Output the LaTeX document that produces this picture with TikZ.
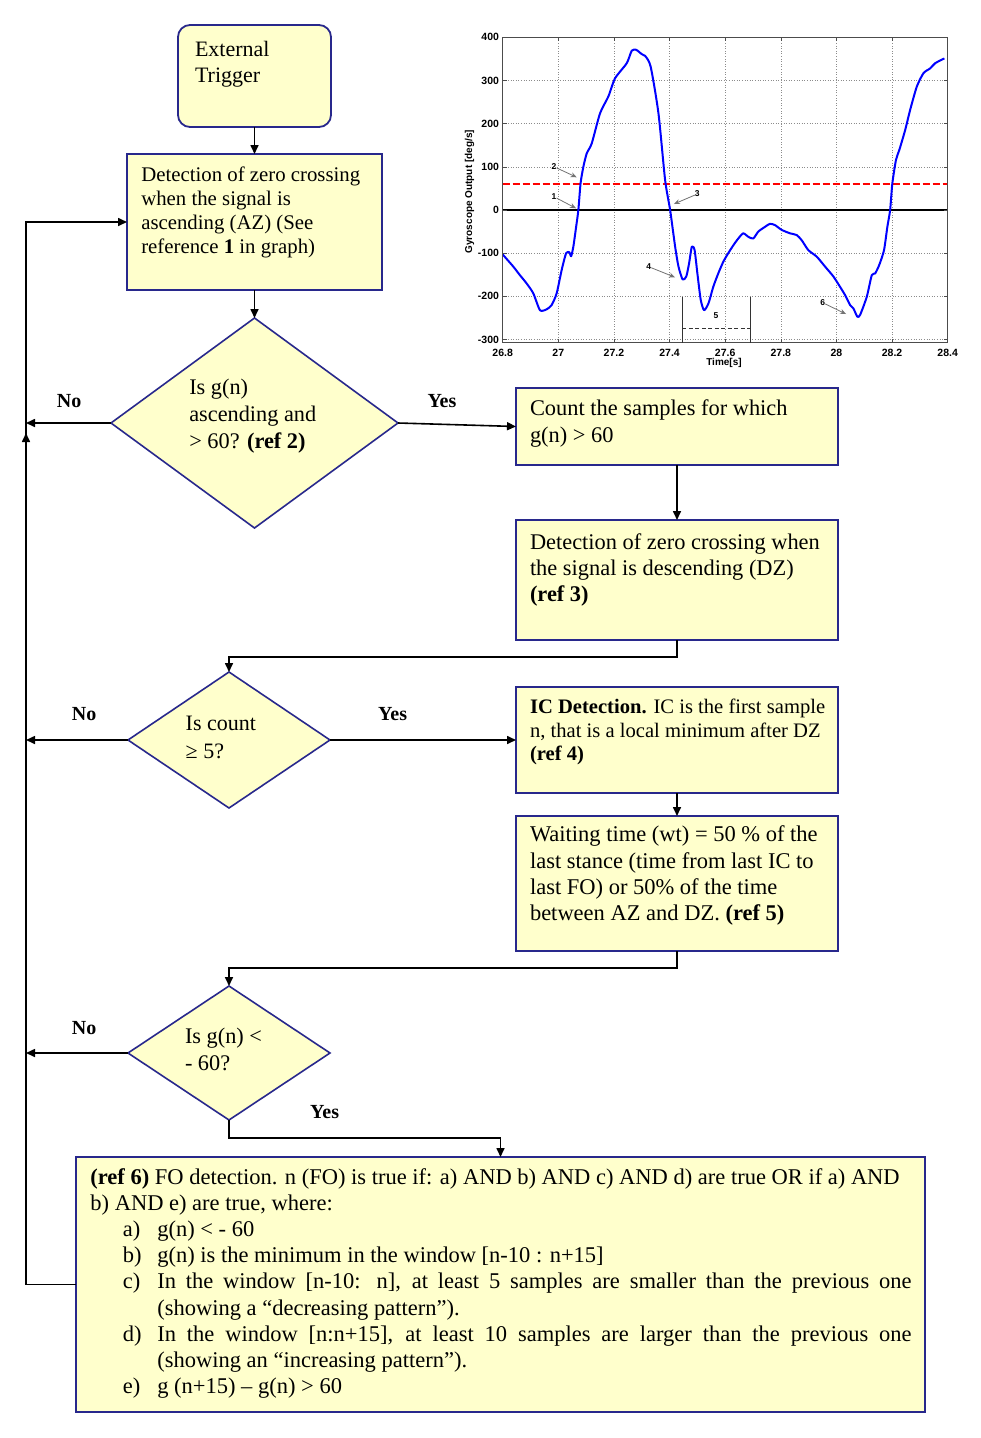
\documentclass[tikz,border=0pt]{standalone}
\usepackage{fontspec}
\setmainfont{Liberation Serif}
\newfontfamily\plotfont{Liberation Sans}
\usetikzlibrary{arrows.meta,shapes.geometric,decorations.markings}
\definecolor{boxfill}{HTML}{FFFFCC}
\definecolor{boxline}{HTML}{28288C}
\newcommand\bigitem[2]{\par\noindent\hangindent=66.9pt\hangafter=1\hspace*{32.5pt}\makebox[34.4pt][l]{#1}#2}
\begin{document}
\begin{tikzpicture}[x=1pt,y=-1pt,
  flowbox/.style={draw=boxline, fill=boxfill, line width=1.8pt, rectangle, inner sep=0pt, outer sep=0pt, anchor=north west},
  flowdiamond/.style={draw=boxline, fill=boxfill, line width=1.6pt, diamond, inner sep=0pt, outer sep=0pt},
  txt/.style={anchor=base west, inner sep=0pt, outer sep=0pt},
  lbl/.style={anchor=base west, inner sep=0pt, font=\fontsize{20}{24}\selectfont\bfseries},
  conn/.style={line width=1.6pt, black},
  arr/.style={conn, -{Triangle[length=9pt,width=8pt]}},
  tick/.style={font=\plotfont\bfseries\fontsize{10.5}{12}\selectfont, inner sep=0pt},
  ann/.style={font=\plotfont\bfseries\fontsize{8.5}{9}\selectfont, inner sep=0pt},
  annarrow/.style={draw=black!55, line width=0.8pt, -{Stealth[length=6pt,width=5pt]}}]
\useasboundingbox[fill=white] (0,0) rectangle (981,1438);

% ---------- shapes ----------
\node[flowbox, rounded corners=12pt, minimum width=153pt, minimum height=102pt] (trig) at (178,25) {};
\node[flowbox, minimum width=255pt, minimum height=136pt] (box1) at (127,154) {};
\node[flowdiamond, minimum width=287pt, minimum height=210pt] (d1) at (254.5,423) {};
\node[flowbox, minimum width=322pt, minimum height=77pt] (count) at (516,388) {};
\node[flowbox, minimum width=322pt, minimum height=120pt] (dz) at (516,520) {};
\node[flowdiamond, minimum width=202pt, minimum height=136pt] (d2) at (229,740) {};
\node[flowbox, minimum width=322pt, minimum height=106pt] (ic) at (516,687) {};
\node[flowbox, minimum width=322pt, minimum height=135pt] (wait) at (516,816) {};
\node[flowdiamond, minimum width=202pt, minimum height=134pt] (d3) at (229,1053) {};
\node[flowbox, minimum width=849pt, minimum height=255pt] (big) at (76,1157) {};
\coordinate (fb) at (26,222);

% ---------- texts ----------
\node[txt] (trigT) at (195,56.2) {\parbox[t]{130pt}{\raggedright\fontsize{22}{25.8}\selectfont External\\Trigger}};
\node[txt] (box1T) at (141.3,181.2) {\parbox[t]{240pt}{\raggedright\fontsize{20.8}{24.1}\selectfont Detection of zero crossing\\when the signal is\\ascending (AZ) (See\\reference \textbf{1} in graph)}};
\node[txt] (d1T) at (189.3,394.8) {\parbox[t]{150pt}{\raggedright\fontsize{22.3}{26.7}\selectfont Is g(n)\\ascending and\\> 60? \textbf{(ref 2)}}};
\node[txt] (countT) at (530,415.7) {\parbox[t]{305pt}{\raggedright\fontsize{22.4}{27}\selectfont Count the samples for which\\g(n) > 60}};
\node[txt] (dzT) at (530,549) {\parbox[t]{305pt}{\raggedright\fontsize{22.4}{26}\selectfont Detection of zero crossing when\\the signal is descending (DZ)\\\textbf{(ref 3)}}};
\node[txt] (d2T) at (185.7,730) {\parbox[t]{100pt}{\raggedright\fontsize{22}{28.3}\selectfont Is count\\≥ 5?}};
\node[txt] (icT) at (530,713.3) {\parbox[t]{305pt}{\raggedright\fontsize{20.6}{23.8}\selectfont \textbf{IC Detection.} IC is the first sample\\n, that is a local minimum after DZ\\\textbf{(ref 4)}}};
\node[txt] (waitT) at (530,841.7) {\parbox[t]{305pt}{\raggedright\fontsize{22.5}{26.3}\selectfont Waiting time (wt) = 50 \% of the\\last stance (time from last IC to\\last FO) or 50\% of the time\\between AZ and DZ. \textbf{(ref 5)}}};
\node[txt] (d3T) at (185,1043.3) {\parbox[t]{100pt}{\raggedright\fontsize{22.3}{27.4}\selectfont Is g(n) <\\- 60?}};
\node[txt] (bigT) at (90.4,1184) {\parbox[t]{821.2pt}{\fontsize{22.5}{26.2}\selectfont\hyphenpenalty=10000\parindent=0pt
\textbf{(ref 6)} FO detection. n (FO) is true if: a) AND b) AND c) AND d) are true OR if a) AND\\
b) AND e) are true, where:
\bigitem{a)}{g(n) < - 60}
\bigitem{b)}{g(n) is the minimum in the window [n-10 : n+15]}
\bigitem{c)}{In the window [n-10: n], at least 5 samples are smaller than the previous one\linebreak (showing a “decreasing pattern”).}
\bigitem{d)}{In the window [n:n+15], at least 10 samples are larger than the previous one\linebreak (showing an “increasing pattern”).}
\bigitem{e)}{g (n+15) – g(n) > 60}}};

% ---------- labels ----------
\node[lbl] (no1) at (56.7,407.5) {No};
\node[lbl] (yes1) at (427.3,407.5) {Yes};
\node[lbl] (no2) at (71.7,720) {No};
\node[lbl] (yes2) at (378,720) {Yes};
\node[lbl] (no3) at (71.7,1034.3) {No};
\node[lbl] (yes3) at (310,1118.3) {Yes};

% ---------- connectors ----------
\draw[arr] (trig.south) -- (box1.north);
\draw[arr] (box1.south) -- (d1.north);
\draw[arr] (d1.east) -- (count.west);
\draw[arr] (d1.west) -- (d1.west -| fb);
\draw[arr] (count.south) -- (dz.north);
\draw[arr] (dz.south) -- ++(0,17) -| (d2.north);
\draw[arr] (d2.east) -- (ic.west);
\draw[arr] (d2.west) -- (d2.west -| fb);
\draw[arr] (ic.south) -- (wait.north);
\draw[arr] (wait.south) -- ++(0,17) -| (d3.north);
\draw[arr] (d3.west) -- (d3.west -| fb);
\draw[arr] (d3.south) -- ++(0,18) -| (big.north);
\draw[arr, postaction={decorate, decoration={markings, mark=at position 901.5pt with {\arrow{Triangle[length=9pt,width=8pt]}}}}]
  (big.west) -- (big.west -| fb) -- (fb) -- (box1.west);

% ---------- graph ----------
\begin{scope}[xshift=-6951.05pt, yshift=-210pt, x=278.125pt, y=0.4318pt]
  \foreach \t in {27,27.2,27.4,27.6,27.8,28,28.2}
    \draw[black!45, dotted, line width=0.6pt] (\t,-307) -- (\t,400);
  \foreach \g in {-300,-200,-100,100,200,300}
    \draw[black!45, dotted, line width=0.6pt] (26.8,\g) -- (28.4,\g);
  \draw[red, dashed, dash pattern=on 7pt off 3pt, line width=1.8pt] (26.8,60) -- (28.4,60);
  \draw[black, line width=1.8pt] (26.8,0) -- (28.4,0);
  \draw[blue, line width=2pt, line join=round] plot[smooth, tension=0.4] coordinates {
    (26.8,-103) (26.838,-131) (26.862,-151) (26.886,-170) (26.91,-193) (26.934,-232)
    (26.958,-230) (26.976,-220) (26.994,-193) (27.012,-139) (27.028,-100) (27.04,-98)
    (27.046,-107) (27.054,-85) (27.064,-39) (27.072,0) (27.08,62) (27.09,100)
    (27.102,131) (27.12,154) (27.15,224) (27.18,263) (27.204,305) (27.246,340)
    (27.264,369) (27.28,371) (27.30,361) (27.312,357) (27.332,332) (27.36,224)
    (27.384,69) (27.402,0) (27.42,-85) (27.432,-131) (27.447,-161) (27.46,-154)
    (27.47,-124) (27.48,-85) (27.49,-93) (27.50,-147) (27.512,-208) (27.524,-232)
    (27.54,-216) (27.557,-178) (27.575,-147) (27.593,-120) (27.611,-100) (27.63,-81)
    (27.647,-66) (27.665,-54) (27.683,-62) (27.701,-66) (27.719,-50) (27.743,-39)
    (27.761,-32) (27.779,-35) (27.803,-46) (27.833,-54) (27.857,-58) (27.875,-70)
    (27.899,-93) (27.929,-108) (27.959,-131) (27.989,-154) (28.013,-178) (28.031,-197)
    (28.049,-220) (28.061,-228) (28.075,-247) (28.085,-243) (28.109,-201) (28.127,-151)
    (28.139,-147) (28.154,-127) (28.171,-93) (28.183,-39) (28.193,0) (28.201,62)
    (28.214,116) (28.226,139) (28.247,185) (28.265,232) (28.289,286) (28.313,317)
    (28.337,328) (28.355,340) (28.388,351)};
  \draw[black!70, line width=0.8pt] (26.8,-307) rectangle (28.4,400);
  \foreach \t in {27,27.2,27.4,27.6,27.8,28,28.2} {
    \draw[black!70, line width=0.6pt] (\t,-307) -- ++(0,9);
    \draw[black!70, line width=0.6pt] (\t,400) -- ++(0,-9);}
  \foreach \g in {-300,-200,-100,0,100,200,300} {
    \draw[black!70, line width=0.6pt] (26.8,\g) -- ++(0.015,0);
    \draw[black!70, line width=0.6pt] (28.4,\g) -- ++(-0.015,0);}
  \foreach \g in {-300,-200,-100,0,100,200,300,400}
    \node[tick, anchor=east] at ([xshift=-3.5pt]26.8,\g) {\g};
  \foreach \t in {26.8,27,27.2,27.4,27.6,27.8,28,28.2,28.4}
    \node[tick, anchor=north] at ([yshift=-6.5pt]\t,-307) {\t};
\end{scope}
\node[font=\plotfont\bfseries\fontsize{10}{12}\selectfont, rotate=90, inner sep=0pt] (ylab) at (469.5,191.7) {Gyroscope Output [deg/s]};
\node[font=\plotfont\bfseries\fontsize{10}{12}\selectfont, inner sep=0pt] (xlab) at (724,363.3) {Time[s]};

% annotations
\node[ann] (a2) at (554,166.7) {2};
\node[ann] (a1) at (554,196.7) {1};
\node[ann] (a3) at (697.3,194) {3};
\node[ann] (a4) at (648.7,266.7) {4};
\node[ann] (a6) at (822.7,302.7) {6};
\node[ann] (a5) at (716,316) {5};
\coordinate (p2) at (576.7,177.3);
\coordinate (p1) at (576,208.3);
\coordinate (p3) at (674,204);
\coordinate (p4) at (675,277.3);
\coordinate (p6) at (846,314);
\draw[annarrow] (a2) -- (p2);
\draw[annarrow] (a1) -- (p1);
\draw[annarrow] (a3) -- (p3);
\draw[annarrow] (a4) -- (p4);
\draw[annarrow] (a6) -- (p6);
\coordinate (w1t) at (682.3,297.3);
\coordinate (w1b) at (682.3,342.7);
\coordinate (w2t) at (750.3,297.3);
\coordinate (w2b) at (750.3,342.7);
\draw[black!80, line width=0.8pt] (w1t) -- (w1b);
\draw[black!80, line width=0.8pt] (w2t) -- (w2b);
\draw[black!80, line width=1pt, dash pattern=on 4pt off 2.5pt] (682.3,328.3) -- (750.3,328.3);
\end{tikzpicture}
\end{document}
